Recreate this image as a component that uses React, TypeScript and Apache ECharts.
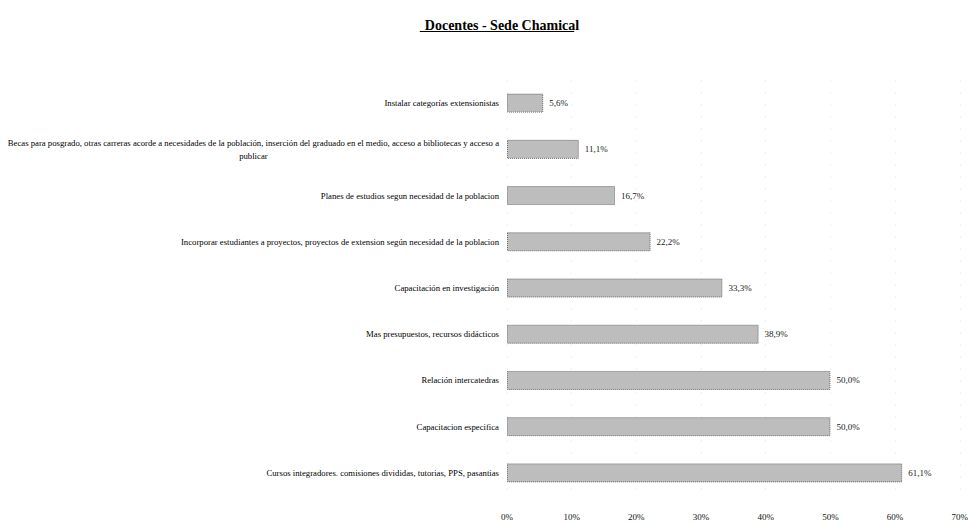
import React, { useEffect, useRef } from "react";
import * as echarts from "echarts";

const TITLE = "Docentes - Sede Chamical";
const categories = [
  "Instalar categorías extensionistas",
  "Becas para posgrado, otras carreras acorde a necesidades de la población, inserción del graduado en el medio, acceso a bibliotecas y acceso a\npublicar",
  "Planes de estudios segun necesidad de la poblacion",
  "Incorporar estudiantes a proyectos, proyectos de extension según necesidad de la poblacion",
  "Capacitación en investigación",
  "Mas presupuestos, recursos didácticos",
  "Relación intercatedras",
  "Capacitacion especifica",
  "Cursos integradores. comisiones divididas, tutorias, PPS, pasantias",
];
const values = [5.6, 11.1, 16.7, 22.2, 33.3, 38.9, 50.0, 50.0, 61.1];
const xTicks = { min: 0, max: 70, interval: 10 };

const FONT = '"Liberation Serif", "Times New Roman", serif';

function measure(text: string, size: number, weight = "normal") {
  const c = document.createElement("canvas").getContext("2d")!;
  c.font = `${weight} ${size}px ${FONT}`;
  return c.measureText(text).width;
}

export default function App() {
  const ref = useRef<HTMLDivElement>(null);
  useEffect(() => {
    if (!ref.current) return;
    const chart = echarts.init(ref.current, null, { renderer: "svg" });
    const longest = categories[1].split("\n")[0];
    const catSize = Math.min(11, (10 * 492) / measure(longest, 10));
    const line1W = measure(longest, catSize);
    const titleSize = 14;
    const titleW = measure(TITLE, titleSize, "bold");
    const titleCx = 497;

    chart.setOption({
      animation: false,
      title: {
        text: TITLE,
        left: titleCx,
        top: 13,
        textAlign: "center",
        textStyle: { fontFamily: FONT, fontSize: titleSize, fontWeight: "bold", color: "#000" },
      },
      graphic: [
        {
          type: "line",
          shape: { x1: titleCx - titleW / 2, y1: 31.5, x2: titleCx + titleW / 2, y2: 31.5 },
          style: { stroke: "#000", lineWidth: 1 },
        },
      ],
      grid: { left: 507, right: 9, top: 80, bottom: 27, containLabel: false },
      xAxis: {
        type: "value",
        min: xTicks.min,
        max: xTicks.max,
        interval: xTicks.interval,
        axisLine: { show: false },
        axisTick: { show: false },
        splitLine: { show: true, lineStyle: { color: "#f0f0f0", type: [2, 10] } },
        axisLabel: {
          margin: 16,
          fontFamily: FONT,
          fontSize: 9,
          color: "#111",
          formatter: (v: number) => `${v}%`,
        },
      },
      yAxis: {
        type: "category",
        inverse: true,
        data: categories,
        axisLine: { show: false },
        axisTick: { show: false },
        axisLabel: {
          margin: 8,
          fontFamily: FONT,
          fontSize: catSize,
          color: "#000",
          lineHeight: catSize + 4,
          formatter: (v: string) => {
            if (v.indexOf("\n") < 0) return v;
            return v
              .split("\n")
              .map((l) => `{c|${l}}`)
              .join("\n");
          },
          rich: {
            c: {
              width: line1W,
              align: "center",
              fontFamily: FONT,
              fontSize: catSize,
              lineHeight: catSize + 4,
              color: "#000",
            },
          },
        },
      },
      series: [
        {
          type: "bar",
          data: values,
          barWidth: 19,
          itemStyle: {
            color: "#bdbdbd",
            borderColor: "#666",
            borderWidth: 1,
            borderType: "dotted",
          },
          label: {
            show: true,
            position: "right",
            distance: 6,
            fontFamily: FONT,
            fontSize: 9,
            color: "#222",
            formatter: (p: any) => `${Number(p.value).toFixed(1).replace(".", ",")}%`,
          },
        },
      ],
    });
    return () => chart.dispose();
  }, []);
  return <div ref={ref} style={{ width: 971, height: 523, position: "absolute", left: 0, top: 0 }} />;
}
